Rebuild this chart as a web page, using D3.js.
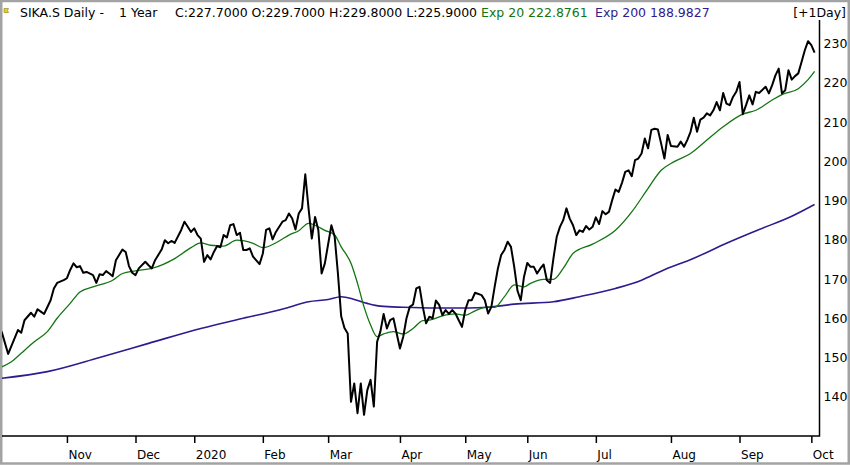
<!DOCTYPE html>
<html>
<head>
<meta charset="utf-8">
<script src="https://cdn.jsdelivr.net/npm/d3@7"></script>
<style>
  body { margin: 0; background: #fff; }
  svg { display: block; font-family: 'DejaVu Sans', 'Noto Sans', sans-serif; }
</style>
</head>
<body>
<svg id="chart" width="850" height="465"></svg>
<script>
// trading-day index (0 = 4 Oct 2019) and daily close
const closeSeries = [
  [0, 156.6], [2, 150.9], [5, 157.0], [6, 156.3], [7, 159.5], [9, 161.4], [10, 160.4], [11, 162.3],
  [12, 161.7], [13, 161.1], [15, 164.6], [16, 167.6], [17, 169.0], [19, 169.7], [20, 170.2], [21, 172.3],
  [22, 174.0], [23, 173.0], [24, 173.3], [25, 171.6], [26, 171.8], [28, 171.0], [29, 169.0], [30, 171.2],
  [31, 171.0], [32, 172.0], [33, 171.4], [34, 170.7], [35, 174.8], [37, 177.5], [38, 176.9], [39, 173.3],
  [40, 171.6], [41, 171.0], [42, 172.7], [44, 174.4], [45, 173.5], [46, 172.7], [47, 174.8], [49, 177.5],
  [50, 179.9], [51, 179.1], [52, 179.7], [53, 179.2], [55, 182.5], [56, 184.6], [57, 183.3], [58, 182.0],
  [59, 182.9], [60, 181.2], [61, 180.3], [62, 174.4], [63, 176.1], [64, 175.0], [65, 176.9], [66, 178.4],
  [67, 178.1], [68, 181.2], [69, 180.6], [70, 183.7], [71, 184.0], [72, 181.2], [73, 181.8], [74, 177.4],
  [75, 177.4], [76, 177.8], [77, 175.7], [79, 173.8], [80, 176.5], [81, 182.5], [82, 182.9], [83, 180.1],
  [84, 182.0], [86, 184.6], [87, 185.0], [88, 186.7], [89, 185.4], [90, 182.6], [91, 186.7], [92, 188.0],
  [93, 196.7], [94, 188.0], [95, 180.3], [96, 185.8], [97, 182.5], [98, 171.4], [99, 174.0], [101, 183.7],
  [102, 180.8], [103, 171.4], [104, 160.5], [105, 157.5], [106, 156.1], [107, 138.7], [108, 143.4], [109, 135.8],
  [110, 143.4], [111, 135.4], [112, 141.7], [113, 144.3], [114, 137.5], [115, 154.0], [116, 156.6], [117, 161.1],
  [118, 157.4], [119, 159.5], [120, 160.0], [121, 156.1], [122, 152.3], [123, 155.3], [124, 160.0], [125, 162.9],
  [126, 163.5], [127, 167.6], [128, 168.0], [129, 162.9], [130, 158.7], [131, 160.4], [132, 160.0], [133, 164.5],
  [134, 163.4], [135, 160.8], [136, 162.1], [137, 161.1], [138, 162.1], [139, 161.2], [140, 159.5], [141, 157.8],
  [142, 162.1], [143, 164.6], [144, 164.6], [145, 166.5], [147, 165.9], [148, 164.6], [149, 161.2], [150, 162.9],
  [151, 168.0], [152, 172.7], [153, 176.1], [154, 177.4], [155, 179.5], [156, 178.2], [157, 173.1], [158, 167.0],
  [159, 164.6], [160, 170.6], [161, 174.1], [162, 173.1], [163, 173.1], [164, 171.4], [165, 172.7], [166, 173.7],
  [167, 169.7], [168, 169.0], [169, 175.2], [170, 180.7], [171, 183.3], [172, 185.0], [173, 188.0], [174, 185.4],
  [175, 183.7], [176, 181.2], [177, 182.4], [178, 182.0], [179, 183.5], [180, 182.6], [181, 183.3], [182, 185.7],
  [183, 184.0], [184, 187.3], [185, 186.5], [186, 187.1], [187, 190.1], [188, 192.8], [189, 192.2], [190, 194.5],
  [191, 197.3], [192, 197.7], [193, 196.2], [194, 200.3], [195, 200.7], [196, 202.0], [197, 205.8], [198, 203.3],
  [199, 208.0], [200, 208.3], [201, 208.1], [202, 204.5], [203, 200.7], [204, 206.7], [205, 203.9], [207, 203.7],
  [208, 205.0], [209, 203.7], [210, 205.4], [211, 207.5], [212, 211.1], [213, 207.5], [214, 210.6], [215, 211.1],
  [216, 212.2], [217, 211.7], [218, 213.0], [219, 215.1], [220, 213.0], [221, 217.4], [222, 214.7], [223, 214.3],
  [224, 216.4], [225, 217.7], [226, 220.2], [227, 212.0], [228, 214.3], [229, 216.8], [230, 214.5], [231, 217.7],
  [232, 217.4], [234, 219.0], [235, 217.3], [236, 219.4], [237, 221.9], [238, 223.6], [239, 217.3], [240, 218.1],
  [241, 223.2], [242, 220.8], [243, 221.7], [244, 222.4], [245, 225.3], [246, 228.3], [247, 230.6], [248, 229.6],
  [249, 227.7],
];

// exponential moving average, 20 days
const ema20Series = [
  [0, 147.6], [3, 148.9], [6, 151.1], [10, 154.0], [14, 156.6], [17, 160.0], [21, 163.8], [24, 166.7],
  [28, 168.0], [34, 169.7], [37, 171.4], [41, 172.1], [46, 172.7], [53, 175.2], [58, 178.0], [61, 179.2],
  [64, 178.6], [68, 178.4], [72, 179.9], [77, 179.1], [80, 178.0], [85, 179.7], [88, 181.2], [91, 182.3],
  [94, 184.2], [96, 183.7], [99, 182.4], [102, 181.2], [104, 178.2], [107, 174.0], [109, 168.9], [111, 162.9],
  [113, 158.3], [115, 155.3], [117, 156.0], [120, 156.6], [123, 156.0], [126, 157.4], [129, 159.4], [131, 159.5],
  [135, 160.6], [139, 161.1], [142, 160.8], [145, 161.9], [149, 162.9], [151, 162.8], [154, 165.5], [157, 168.5],
  [160, 168.0], [162, 168.9], [166, 169.9], [169, 169.9], [172, 172.7], [175, 176.5], [181, 178.9], [188, 182.4],
  [193, 187.1], [198, 193.1], [202, 197.7], [206, 199.9], [211, 202.0], [216, 205.4], [221, 208.8], [227, 212.0],
  [231, 213.0], [236, 215.6], [239, 217.0], [244, 218.5], [247, 220.8], [249, 222.9],
];

// exponential moving average, 200 days
const ema200Series = [
  [0, 144.7], [14, 146.4], [30, 150.0], [45, 153.6], [61, 157.4], [74, 160.0], [85, 162.1], [88, 162.8],
  [94, 164.2], [100, 164.8], [104, 165.5], [108, 164.8], [112, 163.8], [116, 163.1], [123, 162.8], [133, 162.6],
  [143, 162.6], [149, 162.8], [157, 163.6], [169, 164.2], [177, 165.5], [188, 167.6], [196, 169.7], [202, 172.0],
  [212, 175.3], [222, 179.1], [232, 182.6], [242, 186.0], [249, 189.0],
];

// first trading day of each month
const monthTickDays = [20, 41, 59, 80, 100, 122, 142, 161, 182, 205, 226, 248];
const monthTickLabels = ['Nov', 'Dec', '2020', 'Feb', 'Mar', 'Apr', 'May', 'Jun', 'Jul', 'Aug', 'Sep', 'Oct'];
const priceTicks = [140, 150, 160, 170, 180, 190, 200, 210, 220, 230];

const plot = {
  left: 0,
  right: 819.5,
  top: 20,
  bottom: 436,
};

const colors = {
  close: '#000',
  ema20: '#127512',
  ema200: '#2f1a8e',
  frame: '#a3a3a3',
};

const svg = d3.select('#chart');

const x = d3.scaleLinear()
  .domain([-0.5, 250.5])
  .range([plot.left, plot.right]);

const y = d3.scaleLinear()
  .domain([130, 236])
  .range([plot.bottom, plot.top]);

// outer window frame
svg.append('rect')
  .attr('x', 1.25)
  .attr('y', 1)
  .attr('width', 847.5)
  .attr('height', 462.5)
  .attr('fill', '#fff')
  .attr('stroke', colors.frame)
  .attr('stroke-width', 2.5);

const line = (curve) => d3.line()
  .x((d) => x(d[0]))
  .y((d) => y(d[1]))
  .curve(curve);

svg.append('clipPath')
  .attr('id', 'plotClip')
  .append('rect')
  .attr('x', 2)
  .attr('y', plot.top)
  .attr('width', plot.right - 2)
  .attr('height', plot.bottom - plot.top);

const lines = svg.append('g').attr('clip-path', 'url(#plotClip)');

// moving averages first so the close sits on top
lines.append('path')
  .datum(ema200Series)
  .attr('fill', 'none')
  .attr('stroke', colors.ema200)
  .attr('stroke-width', 1.6)
  .attr('d', line(d3.curveMonotoneX));

lines.append('path')
  .datum(ema20Series)
  .attr('fill', 'none')
  .attr('stroke', colors.ema20)
  .attr('stroke-width', 1.3)
  .attr('d', line(d3.curveMonotoneX));

lines.append('path')
  .datum(closeSeries)
  .attr('fill', 'none')
  .attr('stroke', colors.close)
  .attr('stroke-width', 2)
  .attr('stroke-linejoin', 'round')
  .attr('d', line(d3.curveLinear));

// plot borders: bottom and right only
svg.append('path')
  .attr('d', `M2,${plot.bottom}H${plot.right}V${plot.top}`)
  .attr('fill', 'none')
  .attr('stroke', '#000')
  .attr('stroke-width', 1.5);

// month axis, labels sit right of the tick
svg.append('g')
  .attr('transform', `translate(0,${plot.bottom})`)
  .call(d3.axisBottom(x)
    .tickValues(monthTickDays)
    .tickFormat((d, i) => monthTickLabels[i])
    .tickSize(7)
    .tickPadding(7))
  .call((g) => g.select('.domain').remove())
  .call((g) => g.selectAll('.tick line')
    .attr('stroke', '#000')
    .attr('stroke-width', 1.5))
  .call((g) => g.selectAll('.tick text')
    .attr('text-anchor', 'start')
    .attr('x', 1)
    .attr('fill', '#000')
    .style('font-size', '12px')
    .style('font-family', "'DejaVu Sans', sans-serif"));

// price axis on the right, no tick marks
svg.append('g')
  .attr('transform', `translate(${plot.right},0)`)
  .call(d3.axisRight(y)
    .tickValues(priceTicks)
    .tickFormat(d3.format('d'))
    .tickSize(0)
    .tickPadding(4))
  .call((g) => g.select('.domain').remove())
  .call((g) => g.selectAll('.tick text')
    .attr('fill', '#000')
    .style('font-size', '12.5px')
    .style('font-family', "'DejaVu Sans', sans-serif"));

// header: flag icon and quote line
svg.append('path')
  .attr('d', 'M4,8.5h4.5l-1,2l1,2h-4.5z')
  .attr('fill', '#e8cf2a')
  .attr('stroke', '#8a7a10')
  .attr('stroke-width', 0.6);

const header = svg.append('g')
  .style('font-size', '12.5px')
  .attr('fill', '#000');

const headerParts = [
  { x: 20, text: 'SIKA.S Daily -', fill: '#000' },
  { x: 119, text: '1 Year', fill: '#000' },
  { x: 175, text: 'C:227.7000 O:229.7000 H:229.8000 L:225.9000', fill: '#000' },
  { x: 481, text: 'Exp 20 222.8761', fill: colors.ema20 },
  { x: 595, text: 'Exp 200 188.9827', fill: colors.ema200 },
];

header.selectAll('text.part')
  .data(headerParts)
  .join('text')
  .attr('class', 'part')
  .attr('x', (d) => d.x)
  .attr('y', 17)
  .attr('fill', (d) => d.fill)
  .text((d) => d.text);

header.append('text')
  .attr('x', 846)
  .attr('y', 17)
  .attr('text-anchor', 'end')
  .text('[+1Day]');
</script>
</body>
</html>
